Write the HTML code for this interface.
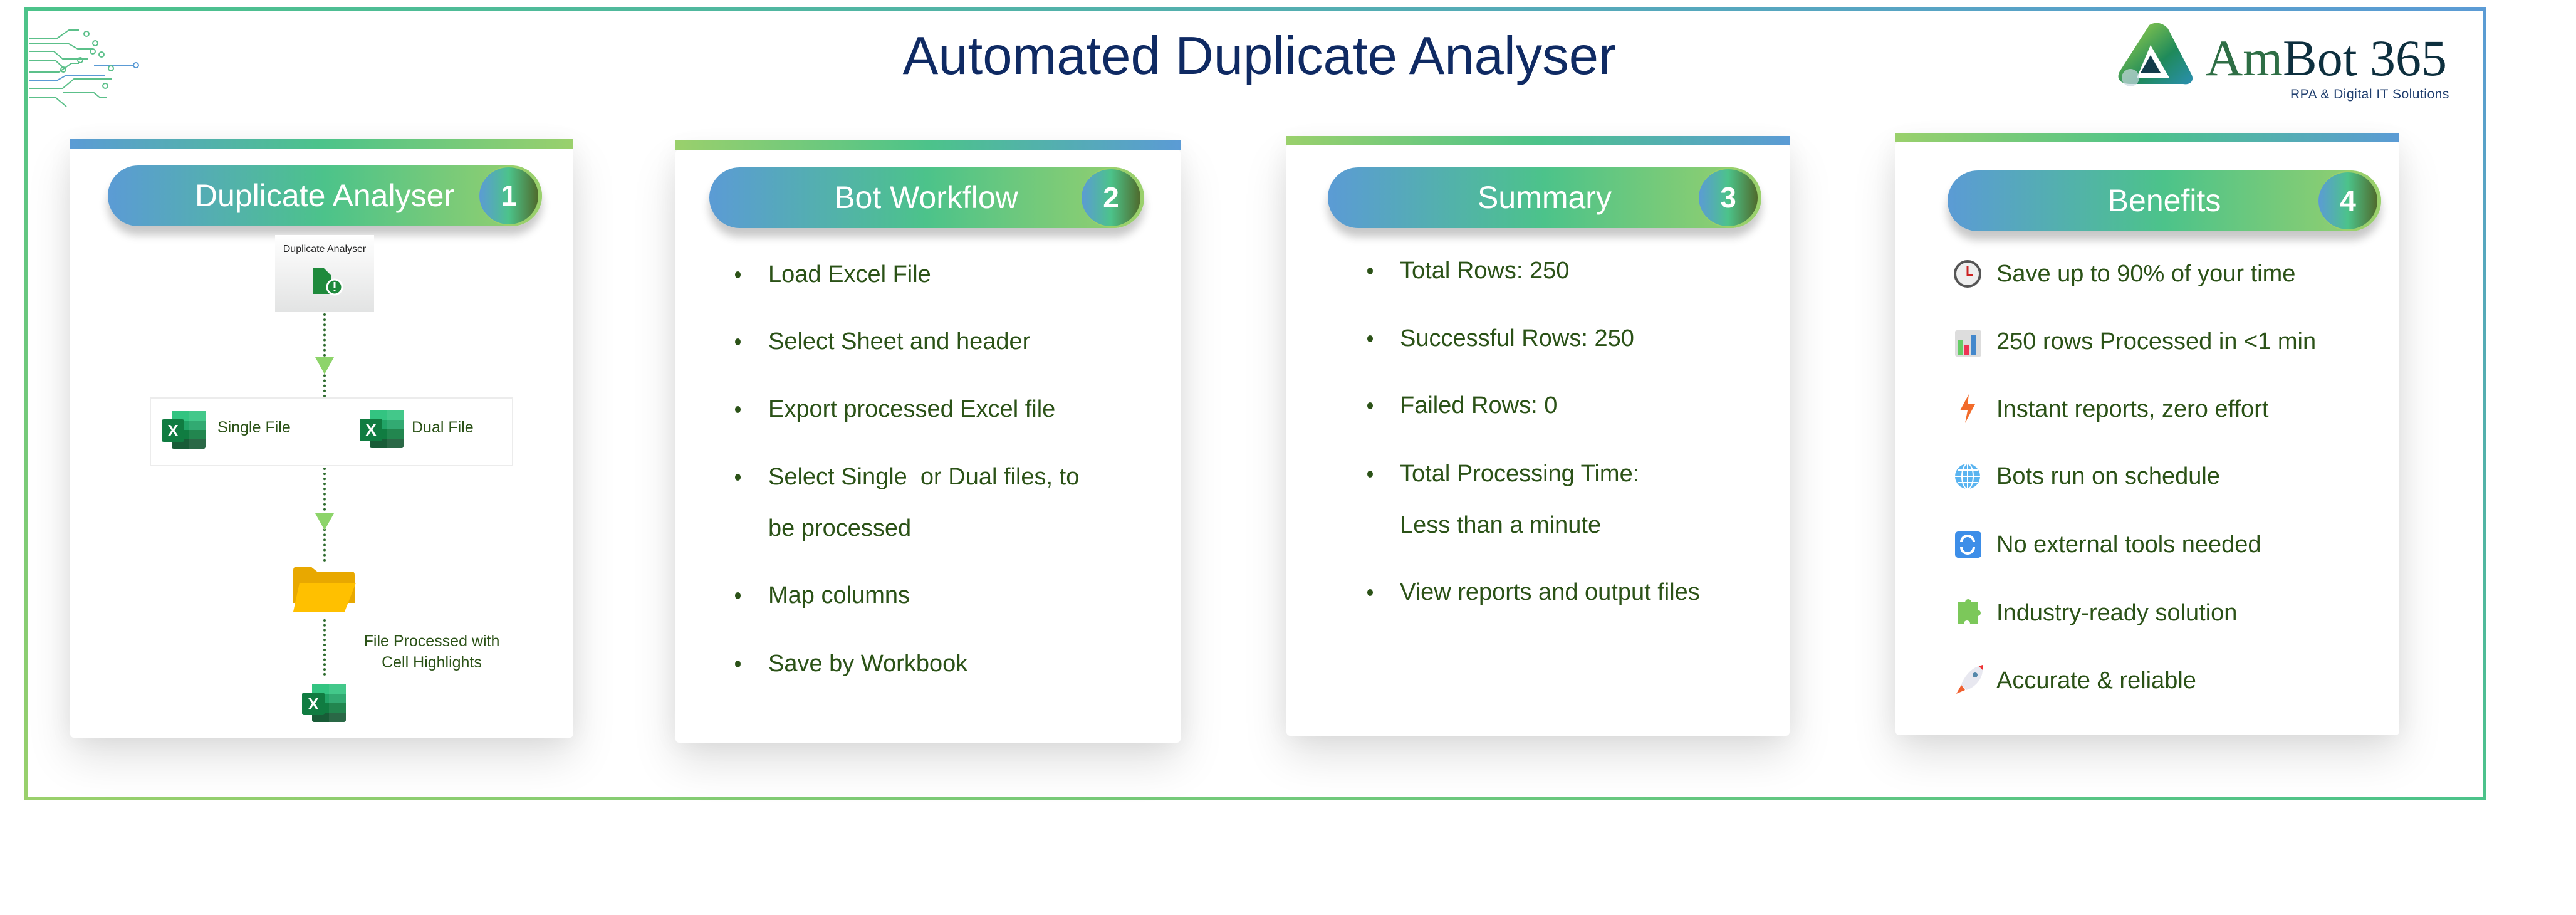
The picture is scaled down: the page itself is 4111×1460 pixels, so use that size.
<!DOCTYPE html>
<html><head><meta charset="utf-8"><style>
html,body{margin:0;padding:0;background:#fff;}
body{width:4111px;height:1460px;position:relative;overflow:hidden;font-family:"Liberation Sans",sans-serif;}
.abs{position:absolute;}
.card{position:absolute;background:#fff;box-shadow:0 30px 70px rgba(0,0,0,0.13),0 0 40px rgba(0,0,0,0.06);border-radius:6px;}
.bar{position:absolute;height:15px;}
.pill{position:absolute;height:97px;border-radius:49px;background:linear-gradient(90deg,#5b9bd5 0%,#4cc38a 50%,#9ad06c 100%);box-shadow:0 14px 14px rgba(0,0,0,0.22);color:#fff;font-size:50px;}
.pill .t{position:absolute;top:0;left:66px;width:560px;line-height:97px;text-align:center;}
.badge{position:absolute;right:0;top:0;width:100px;height:97px;border-radius:50%;background:#9ad06c;}
.badge i{position:absolute;left:0;top:3px;width:94px;height:91px;border-radius:50%;background:linear-gradient(90deg,#5b9bd5 0%,#4cc38a 50%,#4f6a2c 100%);font-style:normal;font-weight:bold;font-size:46px;line-height:91px;text-align:center;color:#fff;}
.li{position:absolute;font-size:38px;color:#2b5217;white-space:nowrap;line-height:46px;}
.dot{position:absolute;width:9px;height:11px;border-radius:50%;background:#2b5217;}
.vd{position:absolute;width:0;border-left:4px dotted #2e6b2e;}
.tri{position:absolute;width:0;height:0;border-left:15px solid transparent;border-right:15px solid transparent;border-top:27px solid #8dd46a;}
.sm{position:absolute;font-size:25px;color:#2b5217;white-space:nowrap;}
</style></head><body>

<svg class="abs" style="left:0;top:0" width="4111" height="1460">
<defs>
<linearGradient id="lb" x1="0" y1="0" x2="0" y2="1"><stop offset="0" stop-color="#4cc38a"/><stop offset="1" stop-color="#9ad06c"/></linearGradient>
<linearGradient id="bb" x1="0" y1="0" x2="1" y2="0"><stop offset="0" stop-color="#9ad06c"/><stop offset="1" stop-color="#4cc38a"/></linearGradient>
<linearGradient id="rb" x1="0" y1="0" x2="0" y2="1"><stop offset="0" stop-color="#5b9bd5"/><stop offset="1" stop-color="#4cc38a"/></linearGradient>
<linearGradient id="tb" x1="0" y1="0" x2="1" y2="0"><stop offset="0" stop-color="#4cc38a"/><stop offset="1" stop-color="#5b9bd5"/></linearGradient>
</defs>
<rect x="39" y="11" width="3929" height="6" fill="url(#tb)"/>
<rect x="39" y="11" width="6" height="1266" fill="url(#lb)"/>
<rect x="39" y="1271" width="3929" height="6" fill="url(#bb)"/>
<rect x="3962" y="11" width="6" height="1266" fill="url(#rb)"/>
<g stroke="#5cc08a" stroke-width="2" fill="none">
<path d="M47 62 H90 L110 48 H126"/><circle cx="138" cy="54" r="4"/>
<path d="M47 69 H108 L124 78 H148"/><circle cx="152" cy="69" r="4"/>
<path d="M47 82 H86 L100 94 H140"/><circle cx="148" cy="82" r="4"/><circle cx="162" cy="87" r="4"/>
<path d="M47 96 H88 L100 107"/><circle cx="101" cy="111" r="4"/>
<path d="M47 115 H94 L114 101 H126"/><circle cx="128" cy="96" r="4"/>
<path d="M47 129 H90 L104 121 H168" stroke="#5b9bd5"/><circle cx="217" cy="104" r="4" stroke="#5b9bd5"/><path d="M150 104 H213" stroke="#5b9bd5"/>
<path d="M47 141 H100 L118 126 H178"/><circle cx="177" cy="109" r="4"/>
<path d="M47 155 H88 L106 170"/><path d="M100 148 H150 L160 156 H170"/><circle cx="168" cy="137" r="4"/>
</g>
</svg>

<div class="abs" style="left:1380px;top:40px;width:1260px;text-align:center;font-size:85px;color:#0f2a63;line-height:100px;">Automated Duplicate Analyser</div>

<svg class="abs" style="left:3370px;top:32px" width="140" height="110">
<defs><linearGradient id="lg" x1="0" y1="0" x2="1" y2="1"><stop offset="0" stop-color="#a6d84a"/><stop offset="0.6" stop-color="#1f8a5a"/><stop offset="1" stop-color="#2a8fb0"/></linearGradient></defs>
<path d="M60 8 C70 2 82 4 90 14 L128 88 C132 98 124 104 114 102 L30 102 C12 102 6 92 14 80 Z" fill="url(#lg)"/>
<path d="M62 40 L92 92 L40 92 Z" fill="#fff"/>
<path d="M62 56 L78 84 L46 84 Z" fill="#123b4a"/>
<circle cx="30" cy="92" r="14" fill="#c8d8e0" opacity="0.7"/>
</svg>
<div class="abs" style="left:3520px;top:46px;font-family:'Liberation Serif',serif;font-size:82px;line-height:94px;white-space:nowrap;"><span style="color:#2e6e45">Am</span><span style="color:#0d2f3e">Bot 365</span></div>
<div class="abs" style="left:3655px;top:139px;font-size:21px;color:#1f3e6e;white-space:nowrap;letter-spacing:0.5px;">RPA &amp; Digital IT Solutions</div>

<!-- Card 1 -->
<div class="card" style="left:112px;top:230px;width:803px;height:947px;"></div>
<div class="bar" style="left:112px;top:222px;width:803px;background:linear-gradient(90deg,#5b9bd5,#4cc38a 50%,#9ad06c);"></div>
<div class="pill" style="left:172px;top:264px;width:693px;"><div class="t">Duplicate Analyser</div><div class="badge"><i>1</i></div></div>

<div class="abs" style="left:439px;top:375px;width:158px;height:123px;background:linear-gradient(180deg,#fff,#e2e3e3);"></div>
<div class="abs" style="left:439px;top:389px;width:158px;text-align:center;font-size:16px;color:#222;">Duplicate Analyser</div>
<svg class="abs" style="left:498px;top:425px" width="52" height="48"><path d="M2 2 H18 L30 14 V44 H2 Z" fill="#1f8a3c"/><circle cx="36" cy="33" r="12" fill="#1f8a3c" stroke="#fff" stroke-width="3"/><rect x="34.5" y="25" width="3" height="10" fill="#fff"/><rect x="34.5" y="37" width="3" height="3" fill="#fff"/></svg>
<div class="vd" style="left:516px;top:500px;height:134px;"></div>
<div class="tri" style="left:503px;top:570px;"></div>

<div class="abs" style="left:239px;top:634px;width:576px;height:106px;border:2px solid #ececec;background:#fff;"></div>
<svg class="abs" style="left:258px;top:654px" width="72" height="64"><g id="xl"><rect x="16" y="2" width="54" height="60" rx="3" fill="#185c37"/><rect x="16" y="2" width="54" height="15" fill="#33c481"/><rect x="16" y="17" width="54" height="15" fill="#21a366"/><rect x="16" y="32" width="54" height="15" fill="#107c41"/><rect x="43" y="2" width="27" height="60" fill="rgba(255,255,255,0.08)"/><rect x="0" y="15" width="36" height="36" rx="3" fill="#107c41"/><text x="18" y="42" font-family="Liberation Sans" font-weight="bold" font-size="26" fill="#fff" text-anchor="middle">X</text></g></svg>
<div class="sm" style="left:347px;top:668px;">Single File</div>
<svg class="abs" style="left:574px;top:653px" width="72" height="64"><use href="#xl"/></svg>
<div class="sm" style="left:657px;top:668px;">Dual File</div>
<div class="vd" style="left:516px;top:746px;height:150px;"></div>
<div class="tri" style="left:503px;top:819px;"></div>
<svg class="abs" style="left:466px;top:902px" width="104" height="76"><path d="M2 8 Q2 2 8 2 H30 L40 10 H96 Q100 10 100 16 V60 H2 Z" fill="#e8a800"/><path d="M12 28 H102 L84 74 H2 Z" fill="#ffc000"/></svg>
<div class="vd" style="left:516px;top:988px;height:90px;"></div>
<div class="sm" style="left:560px;top:1006px;width:258px;text-align:center;line-height:34px;">File Processed with<br>Cell Highlights</div>
<svg class="abs" style="left:482px;top:1090px" width="72" height="64"><use href="#xl"/></svg>

<!-- Card 2 -->
<div class="card" style="left:1078px;top:239px;width:806px;height:946px;"></div>
<div class="bar" style="left:1078px;top:224px;width:806px;background:linear-gradient(90deg,#9ad06c,#4cc38a 50%,#5b9bd5);"></div>
<div class="pill" style="left:1132px;top:267px;width:694px;"><div class="t">Bot Workflow</div><div class="badge"><i>2</i></div></div>
<div class="dot" style="left:1173px;top:433px"></div><div class="li" style="left:1226px;top:415px">Load Excel File</div>
<div class="dot" style="left:1173px;top:540px"></div><div class="li" style="left:1226px;top:522px">Select Sheet and header</div>
<div class="dot" style="left:1173px;top:648px"></div><div class="li" style="left:1226px;top:630px">Export processed Excel file</div>
<div class="dot" style="left:1173px;top:756px"></div><div class="li" style="left:1226px;top:738px">Select Single&nbsp; or Dual files, to</div>
<div class="li" style="left:1226px;top:820px">be processed</div>
<div class="dot" style="left:1173px;top:945px"></div><div class="li" style="left:1226px;top:927px">Map columns</div>
<div class="dot" style="left:1173px;top:1054px"></div><div class="li" style="left:1226px;top:1036px">Save by Workbook</div>

<!-- Card 3 -->
<div class="card" style="left:2053px;top:230px;width:803px;height:944px;"></div>
<div class="bar" style="left:2053px;top:217px;width:803px;height:14px;background:linear-gradient(90deg,#9ad06c,#4cc38a 50%,#5b9bd5);"></div>
<div class="pill" style="left:2119px;top:267px;width:692px;"><div class="t">Summary</div><div class="badge"><i>3</i></div></div>
<div class="dot" style="left:2182px;top:427px"></div><div class="li" style="left:2234px;top:409px">Total Rows: 250</div>
<div class="dot" style="left:2182px;top:535px"></div><div class="li" style="left:2234px;top:517px">Successful Rows: 250</div>
<div class="dot" style="left:2182px;top:642px"></div><div class="li" style="left:2234px;top:624px">Failed Rows: 0</div>
<div class="dot" style="left:2182px;top:751px"></div><div class="li" style="left:2234px;top:733px">Total Processing Time:</div>
<div class="li" style="left:2234px;top:815px">Less than a minute</div>
<div class="dot" style="left:2182px;top:940px"></div><div class="li" style="left:2234px;top:922px">View reports and output files</div>

<!-- Card 4 -->
<div class="card" style="left:3025px;top:226px;width:804px;height:947px;"></div>
<div class="bar" style="left:3025px;top:212px;width:804px;height:14px;background:linear-gradient(90deg,#9ad06c,#4cc38a 50%,#5b9bd5);"></div>
<div class="pill" style="left:3108px;top:272px;width:692px;"><div class="t">Benefits</div><div class="badge"><i>4</i></div></div>

<svg class="abs" style="left:3118px;top:413px" width="48" height="700">
<circle cx="22" cy="24" r="20" fill="#eee" stroke="#555" stroke-width="4"/><path d="M22 12 V26 H30" stroke="#c22" stroke-width="3" fill="none"/>
<rect x="2" y="114" width="42" height="42" rx="3" fill="#ddd"/><rect x="6" y="130" width="8" height="24" fill="#6c6"/><rect x="17" y="138" width="8" height="16" fill="#e35"/><rect x="28" y="122" width="8" height="32" fill="#48c"/>
<path d="M24 216 L10 242 H22 L18 262 L34 232 H22 Z" fill="#f26b2a"/>
<circle cx="22" cy="347" r="20" fill="#5ab4f0"/><g stroke="#fff" stroke-width="2" fill="none"><ellipse cx="22" cy="347" rx="9" ry="20"/><path d="M2 347 H42 M6 337 H38 M6 357 H38 M22 327 V367"/></g>
<rect x="2" y="435" width="42" height="42" rx="5" fill="#3d8ee8"/><path d="M12 452 A10 10 0 0 1 32 452 M32 460 A10 10 0 0 1 12 460" stroke="#fff" stroke-width="4" fill="none"/>
<path d="M6 548 H18 A5 5 0 0 1 28 548 H38 V560 A5 5 0 0 1 38 570 V582 H26 A5 5 0 0 0 16 582 H6 Z" fill="#7cc85a"/>
<path d="M40 650 C30 652 16 666 12 680 L20 688 C34 684 46 670 46 656 Z" fill="#e8e8f0"/><circle cx="34" cy="664" r="4" fill="#58a"/><path d="M12 680 L4 694 L18 688 Z" fill="#f06030"/><path d="M40 650 L46 656 L46 648 Z" fill="#e33"/>
</svg>
<div class="li" style="left:3186px;top:414px">Save up to 90% of your time</div>
<div class="li" style="left:3186px;top:522px">250 rows Processed in &lt;1 min</div>
<div class="li" style="left:3186px;top:630px">Instant reports, zero effort</div>
<div class="li" style="left:3186px;top:737px">Bots run on schedule</div>
<div class="li" style="left:3186px;top:846px">No external tools needed</div>
<div class="li" style="left:3186px;top:955px">Industry-ready solution</div>
<div class="li" style="left:3186px;top:1063px">Accurate &amp; reliable</div>

</body></html>
